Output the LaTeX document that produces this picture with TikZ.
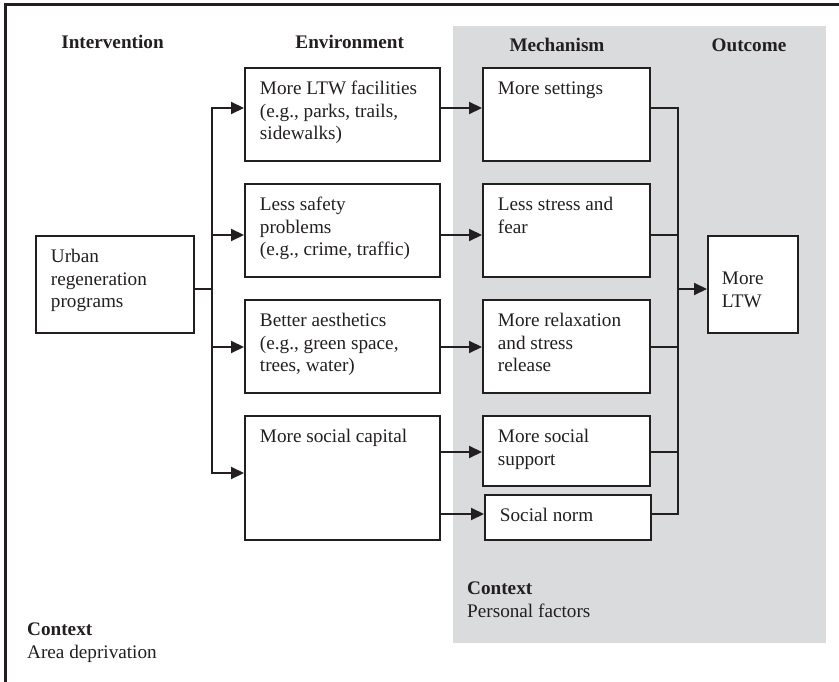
\documentclass[tikz,border=0pt]{standalone}
\usepackage{fontspec}
\setmainfont{Liberation Serif}
\usetikzlibrary{arrows.meta}
\definecolor{ContextGray}{RGB}{218,219,221}
\definecolor{InkColor}{RGB}{35,31,32}
\newcommand{\boxtext}[3]{\parbox[c][#1][t]{#2}{\raggedright\strut #3}}

\begin{document}
\begin{tikzpicture}[x=1pt, y=-1pt,
  every node/.style={font=\fontsize{19.2}{22.7}\selectfont, text=InkColor},
  stagebox/.style={draw=InkColor, fill=white, line width=1.9pt, inner xsep=15pt, inner ysep=10.7pt, anchor=north west},
  flow/.style={draw=InkColor, line width=2.1pt, -{Triangle[length=13pt, width=12pt]}},
  link/.style={draw=InkColor, line width=2.1pt},
  heading/.style={anchor=base, font=\fontsize{19.2}{22.7}\selectfont\bfseries},
  note/.style={anchor=north west, inner sep=0pt, align=left}]
  \useasboundingbox (0,0) rectangle (839,682);
  \fill[ContextGray] (453,26) rectangle (826,643);
  \draw[InkColor, line width=3pt] (5,682) -- (5,5) -- (839,5);

  % column heads
  \node[heading] (hint) at (112.5,49) {Intervention};
  \node[heading] (henv) at (349.7,49) {Environment};
  \node[heading] (hmech) at (557,52) {Mechanism};
  \node[heading] (hout) at (749,52) {Outcome};

  \node[stagebox] (urban) at (35,235) {\boxtext{75.6pt}{128pt}{Urban\\regeneration\\programs}};

  \node[stagebox] (env1) at (244,67) {\boxtext{71.6pt}{165pt}{More LTW facilities\\(e.g., parks, trails,\\sidewalks)}};
  \node[stagebox] (env2) at (244,183) {\boxtext{71.6pt}{165pt}{Less safety\\problems\\(e.g., crime, traffic)}};
  \node[stagebox] (env3) at (244,299) {\boxtext{71.6pt}{165pt}{Better aesthetics\\(e.g., green space,\\trees, water)}};
  \node[stagebox] (env4) at (244,415) {\boxtext{102.6pt}{165pt}{More social capital}};

  \node[stagebox] (mech1) at (482,67) {\boxtext{71.6pt}{137pt}{More settings}};
  \node[stagebox] (mech2) at (482,183) {\boxtext{71.6pt}{137pt}{Less stress and\\fear}};
  \node[stagebox] (mech3) at (482,299) {\boxtext{71.6pt}{137pt}{More relaxation\\and stress\\release}};
  \node[stagebox] (mech4) at (482,415) {\boxtext{48.6pt}{137pt}{More social\\support}};
  \node[stagebox] (mech5) at (484,494) {\boxtext{23.6pt}{136pt}{Social norm}};

  \node[stagebox, inner xsep=14pt, inner ysep=33pt] (outcome) at (707,235) {\boxtext{31pt}{62pt}{More\\LTW}};

  \node[note] (ctxperson) at (467,582) {\textbf{Context}\\Personal factors};
  \node[note] (ctxarea) at (27,623) {\textbf{Context}\\Area deprivation};

  % connector rows
  \coordinate (r1) at (0,108);
  \coordinate (r2) at (0,235);
  \coordinate (r3) at (0,347);
  \coordinate (r4) at (0,473);
  \coordinate (r5) at (0,452);
  \coordinate (r6) at (0,514);
  \coordinate (split) at (212,289);
  \coordinate (join) at (678,289);

  \draw[link] (urban.east |- split) -- (split);
  \foreach \e/\r in {env1/r1, env2/r2, env3/r3, env4/r4}
    \draw[flow] (split) |- (\e.west |- \r);
  \foreach \e/\m/\r in {env1/mech1/r1, env2/mech2/r2, env3/mech3/r3, env4/mech4/r5, env4/mech5/r6}
    \draw[flow] (\e.east |- \r) -- (\m.west |- \r);
  \foreach \m/\r in {mech1/r1, mech2/r2, mech3/r3, mech4/r5, mech5/r6}
    \draw[link] (\m.east |- \r) -| (join);
  \draw[flow] (join) -- (outcome.west |- join);
\end{tikzpicture}
\end{document}
